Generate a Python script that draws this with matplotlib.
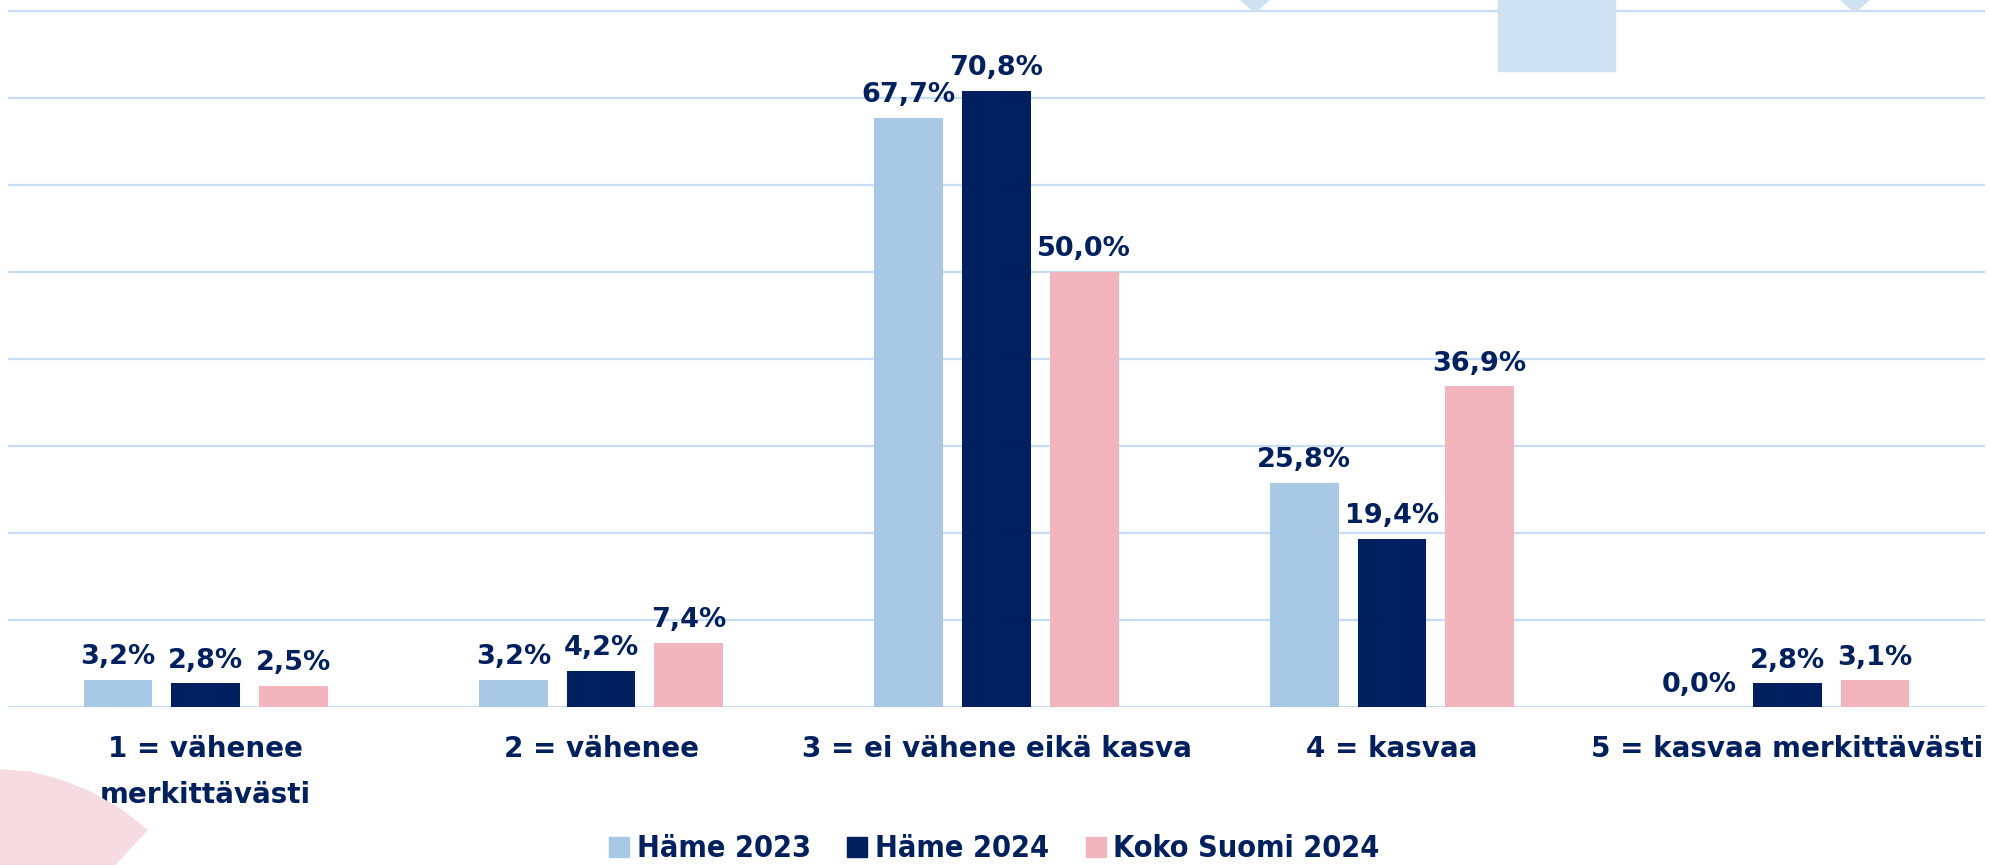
import matplotlib.pyplot as plt
import matplotlib.patches as mpatches
import numpy as np

categories = ['1 = vähenee\nmerkittävästi', '2 = vähenee', '3 = ei vähene eikä kasva',
              '4 = kasvaa', '5 = kasvaa merkittävästi']
series_names = ['Häme 2023', 'Häme 2024', 'Koko Suomi 2024']
hame_2023 = [3.2, 3.2, 67.7, 25.8, 0.0]
hame_2024 = [2.8, 4.2, 70.8, 19.4, 2.8]
koko_suomi_2024 = [2.5, 7.4, 50.0, 36.9, 3.1]
yticks = [0, 10, 20, 30, 40, 50, 60, 70, 80]

colors = ['#A7C9E6', '#001F5F', '#F2B5BE']
navy = '#002060'
grid_col = '#C8DCF6'

plt.rcParams['font.family'] = ['DejaVu Sans']

fig = plt.figure(figsize=(19.89, 8.65), dpi=100)

# background decorations (pixel positions of the slide shapes)
fig.patches.append(mpatches.Rectangle((1498 / 1989, 1 - 71 / 865), 117 / 1989, 71 / 865,
                                      transform=fig.transFigure, color='#CDE1F3', zorder=0))
for cx in [1255, 1855]:
    fig.patches.append(mpatches.Polygon([[(cx - 14) / 1989, 1.0], [(cx + 14) / 1989, 1.0],
                                         [cx / 1989, 1 - 12 / 865]], closed=True,
                                        transform=fig.transFigure, color='#CDE1F3', zorder=0))
pts = [(0, 770), (30, 772), (60, 780), (90, 792), (120, 809), (147, 830), (105, 875), (0, 875)]
fig.patches.append(mpatches.Polygon([[x / 1989, 1 - y / 865] for x, y in pts], closed=True,
                                    transform=fig.transFigure, color='#F6DCE0', zorder=0))

ax = fig.add_axes([0.004, 0.1821, 0.994, 0.8156])
ax.patch.set_alpha(0)

x = np.arange(len(categories))
width = 0.174
step = 0.2216
all_series = [hame_2023, hame_2024, koko_suomi_2024]
for i, vals in enumerate(all_series):
    pos = x + (i - 1) * step
    ax.bar(pos, vals, width, color=colors[i], label=series_names[i], zorder=3)
    for xp, v in zip(pos, vals):
        ax.text(xp, v + 1.1, f'{v:.1f}%'.replace('.', ','), ha='center', va='bottom',
                fontsize=19.5, fontweight='bold', color=navy, zorder=4)

for yv in yticks:
    ax.axhline(yv, color=grid_col, lw=1.6, zorder=1)

ax.set_xlim(-0.5, 4.5)
ax.set_ylim(0, 81)
ax.set_yticks([])
ax.set_xticks(x)
ax.set_xticklabels(categories, fontsize=20, fontweight='bold', color=navy, linespacing=1.8)
ax.tick_params(axis='x', length=0, pad=20)
for s in ax.spines.values():
    s.set_visible(False)

handles = [mpatches.Patch(color=c) for c in colors]
fig.legend(handles, series_names, loc='lower center', bbox_to_anchor=(0.5, -0.03), ncol=3,
           frameon=False, handlelength=0.65, handleheight=0.65, handletextpad=0.25,
           columnspacing=1.2,
           prop={'family': 'DejaVu Sans', 'stretch': 'condensed', 'weight': 'bold', 'size': 22},
           labelcolor=navy)

fig.savefig('out.png', dpi=100)
